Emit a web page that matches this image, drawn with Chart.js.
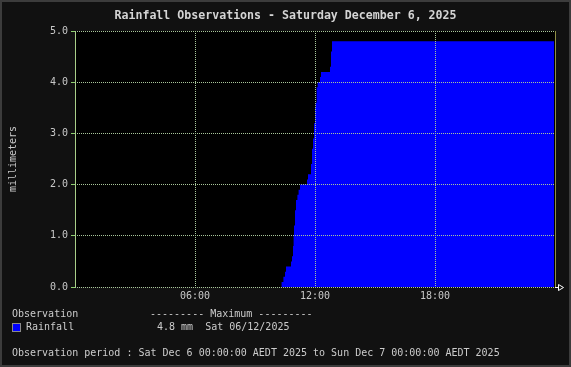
<!DOCTYPE html>
<html>
<head>
<meta charset="utf-8">
<script src="https://cdn.jsdelivr.net/npm/chart.js@4"></script>
<style>
	body { margin: 0; background: #111111; }
	#wrap { position: relative; width: 571px; height: 367px; background: #111111; font-family: "DejaVu Sans Mono", monospace; color: #cccccc; }
	#wrap canvas { position: absolute; left: 0; top: 0; }
	.txt { position: absolute; font-size: 10px; line-height: 12px; white-space: pre; }
	#title { position: absolute; left: 0; width: 571px; top: 8px; text-align: center; font-size: 11.6px; font-weight: bold; line-height: 14px; color: #d4d4d4; }
	#swatch { position: absolute; left: 12px; top: 323px; width: 9px; height: 9px; box-sizing: border-box; background: #0000ff; border: 1px solid #8a8a8a; }
	#frame { position: absolute; left: 0; top: 0; width: 571px; height: 367px; box-sizing: border-box; border: 2px solid #3c3c3c; pointer-events: none; }
</style>
</head>
<body>
<div id="wrap">
	<canvas id="rainChart" width="571" height="367"></canvas>
	<div id="title">Rainfall Observations - Saturday December 6, 2025</div>
	<div class="txt" style="left:12px; top:308px;">Observation</div>
	<div class="txt" style="left:150px; top:308px;">--------- Maximum ---------</div>
	<div id="swatch"></div>
	<div class="txt" style="left:26px; top:321px;">Rainfall</div>
	<div class="txt" style="left:157px; top:321px;">4.8 mm  Sat 06/12/2025</div>
	<div class="txt" style="left:12px; top:347px;">Observation period : Sat Dec 6 00:00:00 AEDT 2025 to Sun Dec 7 00:00:00 AEDT 2025</div>
	<div id="frame"></div>
</div>
<script>
// hours since midnight, cumulative rainfall (mm)
const hours = [0, 10.33, 10.42, 10.5, 10.55, 10.8, 10.85, 10.9, 10.93, 10.95, 11.0, 11.05, 11.12, 11.18, 11.25, 11.6, 11.65, 11.8, 11.85, 11.9, 11.95, 12.0, 12.03, 12.08, 12.13, 12.25, 12.3, 12.75, 12.8, 12.85, 23.95];
const rain = [0, 0.1, 0.2, 0.3, 0.4, 0.5, 0.6, 0.8, 1.0, 1.2, 1.5, 1.7, 1.8, 1.9, 2.0, 2.1, 2.2, 2.4, 2.7, 2.9, 3.2, 3.5, 3.6, 3.9, 4.0, 4.1, 4.2, 4.3, 4.6, 4.8, 4.8];
const xTicks = [0, 6, 12, 18, 24];
const yTicks = [0, 1, 2, 3, 4, 5];

const gridColor = "#a9c79b";
const labelColor = "#c8c8c8";
const tickFont = { family: "DejaVu Sans Mono", size: 10 };

const points = hours.map((h, i) => ({ x: h, y: rain[i] }));

const plotBg = {
	id: "plotBg",
	beforeDraw(chart) {
		const { ctx, chartArea: a } = chart;
		ctx.save();
		ctx.fillStyle = "#000000";
		ctx.fillRect(a.left, a.top, a.right - a.left, a.bottom - a.top);
		ctx.restore();
	},
	afterDraw(chart) {
		// little arrow at the end of the time axis
		const { ctx, chartArea: a } = chart;
		const y = a.bottom + 0.5;
		ctx.save();
		ctx.strokeStyle = "#ffffff";
		ctx.lineWidth = 1;
		ctx.beginPath();
		ctx.moveTo(a.right, y);
		ctx.lineTo(a.right + 3, y);
		ctx.moveTo(a.right + 3.5, y - 3);
		ctx.lineTo(a.right + 8.5, y);
		ctx.lineTo(a.right + 3.5, y + 3);
		ctx.closePath();
		ctx.stroke();
		ctx.restore();
	},
};

const isEdge = (c) => c.tick && (c.tick.value === 0 || c.tick.value === 24);

const config = {
	type: "line",
	data: {
		datasets: [
			{
				label: "Rainfall",
				data: points,
				stepped: true,
				fill: "origin",
				backgroundColor: "#0000ff",
				borderColor: "#0000ff",
				borderWidth: 0,
				pointRadius: 0,
			},
		],
	},
	options: {
		responsive: false,
		animation: false,
		layout: { padding: { top: 31, right: 16, bottom: 0, left: 0 } },
		plugins: { legend: { display: false }, tooltip: { enabled: false } },
		scales: {
			x: {
				type: "linear",
				min: 0,
				max: 24,
				afterFit: (s) => { s.height = 80; },
				afterBuildTicks: (s) => { s.ticks = xTicks.map((v) => ({ value: v })); },
				ticks: {
					color: labelColor,
					font: tickFont,
					padding: 3,
					maxRotation: 0,
					autoSkip: false,
					callback: (v) => (v === 0 || v === 24 ? "" : String(v).padStart(2, "0") + ":00"),
				},
				grid: {
					z: 1,
					drawTicks: false,
					lineWidth: 1,
					color: (c) => (c.tick && c.tick.value === 24 ? "#8f8f45" : c.tick && c.tick.value === 0 ? "#a8cf88" : gridColor),
				},
				border: {
					display: false,
					dash: (c) => (isEdge(c) ? [] : [1, 1]),
				},
			},
			y: {
				type: "linear",
				min: 0,
				max: 5,
				afterFit: (s) => { s.width = 75; },
				afterBuildTicks: (s) => { s.ticks = yTicks.map((v) => ({ value: v })); },
				ticks: {
					color: labelColor,
					font: tickFont,
					padding: 3,
					callback: (v) => v.toFixed(1),
				},
				grid: {
					z: 1,
					color: gridColor,
					lineWidth: 1,
					tickLength: 4,
					tickColor: "#8fcf6f",
					tickBorderDash: [],
				},
				border: { display: false, dash: [1, 1] },
				title: {
					display: true,
					text: "millimeters",
					color: labelColor,
					font: tickFont,
					padding: { top: 7, bottom: 0 },
				},
			},
		},
	},
	plugins: [plotBg],
};

const chart = new Chart(document.getElementById("rainChart"), config);
</script>
</body>
</html>
